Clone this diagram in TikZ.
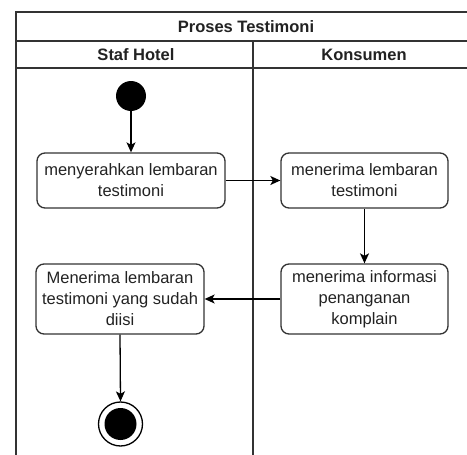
\documentclass[tikz,border=0pt]{standalone}
\usepackage{fontspec}
\setmainfont{Liberation Sans}
\usetikzlibrary{arrows.meta}
\definecolor{ink}{HTML}{222222}
\definecolor{edge}{HTML}{333333}
\tikzset{
  act/.style={draw=edge, line width=1.3pt, rounded corners=8pt, fill=white,
    align=center, text=ink, inner sep=0pt,
    font=\fontsize{16.5}{21}\selectfont},
  flow/.style={draw=black, line width=1.3pt,
    -{Stealth[length=10pt, width=9pt, inset=2.5pt]}},
  lane/.style={draw=edge, line width=1.3pt},
  hdr/.style={text=ink, font=\fontsize{16.5}{20}\selectfont\bfseries}
}
\begin{document}
\begin{tikzpicture}[x=1pt, y=-1pt]
\useasboundingbox (0,0) rectangle (467,455);
\fill[white] (0,0) rectangle (467,455);
\begin{scope}
\clip (0,0) rectangle (467,455);
% pool frame and lanes
\draw[lane] (16,470) -- (16,12) -- (475,12) -- (475,470) -- cycle;
\draw[lane] (16,41) -- (475,41);
\draw[lane] (16,68) -- (475,68);
\draw[lane] (253,41) -- (253,470);
\end{scope}
\node[hdr] (title) at (246,27) {Proses Testimoni};
\node[hdr] (lane1) at (136,55) {Staf Hotel};
\node[hdr] (lane2) at (364,55) {Konsumen};

% start
\node[circle, fill=black, minimum size=30pt, inner sep=0pt] (start) at (131,96) {};

% activities
\node[act, minimum width=188pt, minimum height=55pt] (a1) at (131,180.5)
  {menyerahkan lembaran\\testimoni};
\node[act, minimum width=167pt, minimum height=55pt] (a2) at (364.5,180.5)
  {menerima lembaran\\testimoni};
\node[act, minimum width=167pt, minimum height=70pt] (a4) at (364.5,299)
  {menerima informasi\\penanganan\\komplain};
\node[act, minimum width=168pt, minimum height=70pt] (a3) at (120,299)
  {Menerima lembaran\\testimoni yang sudah\\diisi};

% end
\node[circle, draw=black, line width=1.3pt, fill=white, minimum size=44pt, inner sep=0pt] (stop) at (120.5,424) {};
\node[circle, fill=black, minimum size=32pt, inner sep=0pt] (stopin) at (stop.center) {};

% flows
\draw[flow] (start) -- (a1);
\draw[flow] (a1) -- (a2);
\draw[flow] (a2) -- (a4);
\draw[flow] (a4) -- (a3);
\draw[flow] (a3.south) -- (stop.north);
\end{tikzpicture}
\end{document}
